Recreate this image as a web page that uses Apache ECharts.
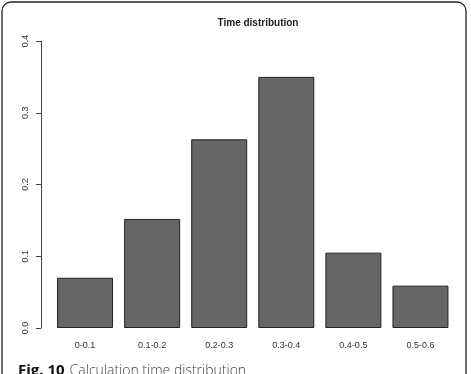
<!DOCTYPE html>
<html>
<head>
<meta charset="utf-8">
<script src="https://cdn.jsdelivr.net/npm/echarts@6/dist/echarts.min.js"></script>
<style>
  html, body { margin: 0; padding: 0; background: #fff; }
  #chart { width: 471px; height: 374px; }
</style>
</head>
<body>
<div id="chart"></div>
<script>
const categories = ["0-0.1", "0.1-0.2", "0.2-0.3", "0.3-0.4", "0.4-0.5", "0.5-0.6"];
const shares = [0.07, 0.152, 0.263, 0.35, 0.105, 0.059];
const yTicks = [0, 0.1, 0.2, 0.3, 0.4];

const chart = echarts.init(document.getElementById("chart"), null, { renderer: "canvas" });

chart.setOption({
  backgroundColor: "#fff",
  animation: false,
  title: [
    {
      text: "Time distribution",
      left: 253,
      top: 13,
      textAlign: "center",
      textStyle: { fontFamily: "Liberation Sans, Arial, sans-serif", fontSize: 10, fontWeight: "bold", color: "#222" }
    },
    {
      text: "{b|Fig. 10} {l|Calculation time distribution}",
      left: 13,
      top: 357,
      textStyle: {
        rich: {
          b: { fontFamily: "Open Sans, sans-serif", fontSize: 15, fontWeight: "bold", color: "#111" },
          l: { fontFamily: "Open Sans, sans-serif", fontSize: 14, fontWeight: 300, color: "#444" }
        }
      }
    }
  ],
  graphic: [
    {
      type: "rect",
      shape: { x: 2, y: 2, width: 464, height: 400, r: 9 },
      style: { fill: "none", stroke: "#222", lineWidth: 1.3 },
      silent: true
    }
  ],
  grid: { left: 51.5, right: 17, top: 41, bottom: 46 },
  xAxis: {
    type: "category",
    data: categories,
    axisLine: { show: false },
    axisTick: { show: false },
    axisLabel: {
      margin: 13,
      fontFamily: "Liberation Sans, Arial, sans-serif",
      fontSize: 9,
      color: "#333"
    }
  },
  yAxis: {
    type: "value",
    min: yTicks[0],
    max: yTicks[yTicks.length - 1],
    interval: 0.1,
    offset: 10.5,
    splitLine: { show: false },
    axisLine: { show: true, lineStyle: { color: "#444", width: 1 } },
    axisTick: { show: true, length: 5, lineStyle: { color: "#444" } },
    axisLabel: {
      rotate: 90,
      margin: 11,
      fontFamily: "Liberation Sans, Arial, sans-serif",
      fontSize: 9,
      color: "#333",
      formatter: v => v.toFixed(1)
    }
  },
  series: [
    {
      type: "bar",
      data: shares,
      barWidth: 56,
      itemStyle: { color: "#666666", borderColor: "#222", borderWidth: 1 }
    }
  ]
});
</script>
</body>
</html>
